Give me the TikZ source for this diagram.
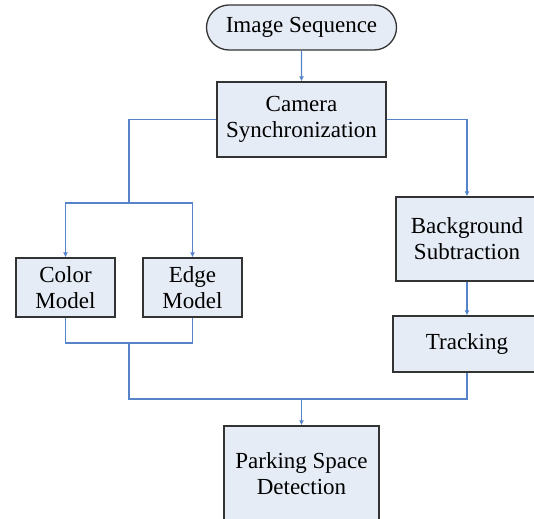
\documentclass[tikz,border=0pt]{standalone}
\usepackage{fontspec}
\setmainfont{Liberation Serif}
\usetikzlibrary{arrows.meta,shapes.misc}
\definecolor{boxfill}{HTML}{E6ECF6}
\definecolor{boxline}{HTML}{333333}
\definecolor{flow}{HTML}{5584C8}
\begin{document}
\begin{tikzpicture}[x=1pt,y=-1pt,
  every node/.style={font=\fontsize{23}{26}\selectfont, align=center, inner sep=0pt},
  stepbox/.style={draw=boxline, fill=boxfill, line width=1.3pt, rectangle},
  pill/.style={draw=boxline, fill=boxfill, line width=1.3pt, rounded rectangle},
  link/.style={draw=flow, line width=1.3pt},
  arrowlink/.style={link, -{Latex[length=5pt,width=5pt]}}]
\useasboundingbox (0,0) rectangle (534,518);
\clip (0,0) rectangle (534,518);

% process steps
\node[pill, minimum width=190pt, minimum height=45pt] (seq) at (301.5,27.5) {Image Sequence};
\node[stepbox, minimum width=169pt, minimum height=75pt] (cam) at (301.5,119.5) {Camera\\Synchronization};
\node[stepbox, minimum width=99pt, minimum height=59pt] (color) at (65.5,287.5) {Color\\Model};
\node[stepbox, minimum width=99pt, minimum height=59pt] (edge) at (192.5,287.5) {Edge\\Model};
\node[stepbox, minimum width=142pt, minimum height=84pt] (bg) at (467,239) {Background\\Subtraction};
\node[stepbox, minimum width=148pt, minimum height=56pt] (track) at (467,344) {Tracking};
\node[stepbox, minimum width=155pt, minimum height=96pt] (park) at (301.5,474) {Parking Space\\Detection};

% branching and merging points
\coordinate (split) at (129,203);
\coordinate (join) at (129,343);
\coordinate (merge) at (129,399);
\coordinate (drop) at (301.5,399);

% connectors
\draw[arrowlink] (seq) -- (cam);
\draw[link] (cam.west) -| (split);
\draw[arrowlink] (split) -| (color.north);
\draw[arrowlink] (split) -| (edge.north);
\draw[arrowlink] (cam.east) -| (bg.north);
\draw[arrowlink] (bg) -- (track);
\draw[link] (color.south) |- (join) -| (edge.south);
\draw[link] (join) -- (merge) -- (drop);
\draw[link] (track.south) |- (drop);
\draw[arrowlink] (drop) -- (park.north);
\end{tikzpicture}
\end{document}
